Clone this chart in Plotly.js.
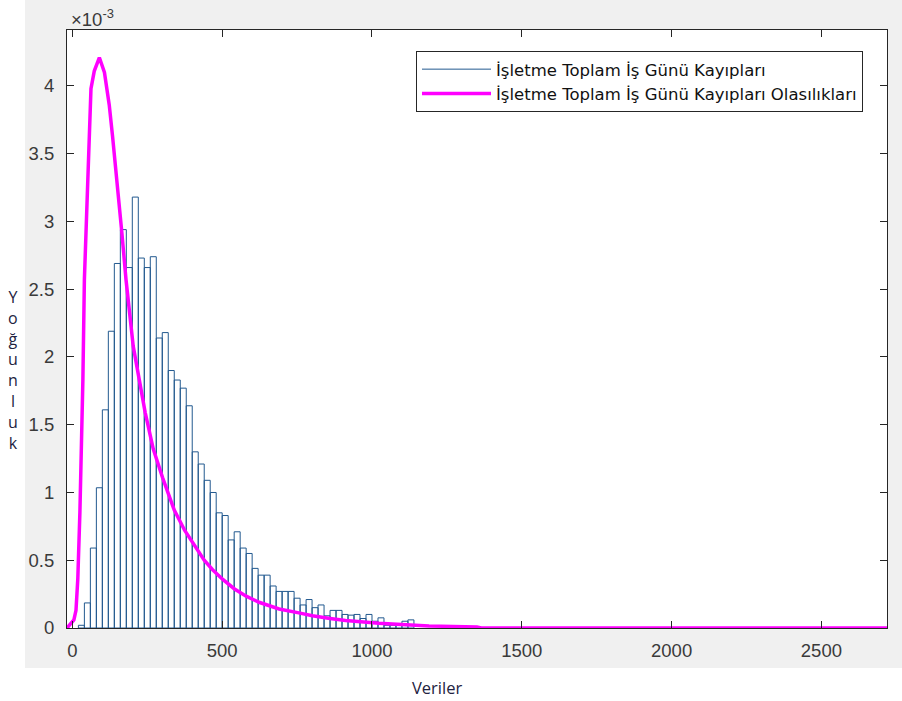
<!DOCTYPE html>
<html>
<head>
<meta charset="utf-8">
<script src="https://cdn.plot.ly/plotly-3.0.1.min.js"></script>
<style>
  html, body { margin: 0; padding: 0; background: #ffffff; }
  #chart { width: 902px; height: 701px; }
</style>
</head>
<body>
<div id="chart"></div>
<script>
// Histogram bins (centers of 20-unit wide bins) and density values
const binCenters = [30, 50, 70, 90, 110, 130, 150, 170, 190, 210, 230, 250, 270, 290, 310, 330, 350, 370, 390, 410,
  430, 450, 470, 490, 510, 530, 550, 570, 590, 610, 630, 650, 670, 690, 710, 730, 750, 770, 790, 810,
  830, 850, 870, 890, 910, 930, 950, 970, 990, 1010, 1030, 1050, 1070, 1090, 1110, 1130];
const binWidth = 20;
const density = [0.02e-3, 0.185e-3, 0.59e-3, 1.035e-3, 1.61e-3, 2.19e-3, 2.69e-3, 2.94e-3, 2.66e-3, 3.18e-3,
  2.73e-3, 2.66e-3, 2.74e-3, 2.14e-3, 2.18e-3, 1.90e-3, 1.83e-3, 1.77e-3, 1.64e-3, 1.30e-3,
  1.21e-3, 1.09e-3, 1.00e-3, 0.85e-3, 0.83e-3, 0.65e-3, 0.71e-3, 0.59e-3, 0.55e-3, 0.44e-3,
  0.39e-3, 0.39e-3, 0.31e-3, 0.27e-3, 0.27e-3, 0.27e-3, 0.22e-3, 0.17e-3, 0.21e-3, 0.15e-3,
  0.17e-3, 0.09e-3, 0.13e-3, 0.13e-3, 0.10e-3, 0.095e-3, 0.10e-3, 0.07e-3, 0.10e-3, 0.05e-3,
  0.075e-3, 0.02e-3, 0.02e-3, 0.02e-3, 0.05e-3, 0.06e-3];

// Fitted probability density curve
const pdfX = [-18, 5, 12, 18, 25, 31, 35, 40, 46, 51, 55, 62, 73, 90, 107, 123, 134, 150, 165, 179,
  203, 243, 270, 301, 340, 375, 410, 440, 468, 501, 540, 580, 623, 690, 760, 801, 860, 912, 1023, 1100,
  1190, 1350, 1365, 2719];
const pdfY = [0, 0.06e-3, 0.13e-3, 0.36e-3, 0.85e-3, 1.34e-3, 1.83e-3, 2.57e-3, 2.95e-3, 3.28e-3,
  3.68e-3, 3.98e-3, 4.11e-3, 4.21e-3, 4.10e-3, 3.86e-3, 3.63e-3, 3.28e-3, 2.92e-3, 2.57e-3,
  2.08e-3, 1.59e-3, 1.32e-3, 1.11e-3, 0.87e-3, 0.72e-3, 0.60e-3, 0.50e-3, 0.43e-3, 0.36e-3,
  0.29e-3, 0.235e-3, 0.19e-3, 0.14e-3, 0.11e-3, 0.09e-3, 0.07e-3, 0.055e-3, 0.035e-3, 0.025e-3,
  0.015e-3, 0.008e-3, 0, 0];

// Tick labels
const xTickVals = [0, 500, 1000, 1500, 2000, 2500];
const xTickLabels = ['0', '500', '1000', '1500', '2000', '2500'];
const yTickVals = [0, 0.5e-3, 1e-3, 1.5e-3, 2e-3, 2.5e-3, 3e-3, 3.5e-3, 4e-3];
const yTickLabels = ['0', '0.5', '1', '1.5', '2', '2.5', '3', '3.5', '4'];

const seriesNames = ['İşletme Toplam İş Günü Kayıpları', 'İşletme Toplam İş Günü Kayıpları Olasılıkları'];
const xLabel = 'Veriler';
const yLabel = 'Yoğunluk';

const histColor = '#22598f';
const pdfColor = '#ff00ff';
const axisColor = '#262626';
const tickFont = { family: 'Liberation Sans, Arial, sans-serif', size: 18.5, color: '#3a3a3a' };

const traces = [
  {
    type: 'bar',
    x: binCenters,
    y: density,
    width: binWidth,
    marker: { color: 'rgba(255,255,255,0)', line: { color: histColor, width: 1 } },
    showlegend: false,
    hoverinfo: 'skip'
  },
  {
    type: 'scatter',
    mode: 'lines',
    x: [null],
    y: [null],
    name: seriesNames[0],
    line: { color: histColor, width: 1 }
  },
  {
    type: 'scatter',
    mode: 'lines',
    x: pdfX,
    y: pdfY,
    name: seriesNames[1],
    line: { color: pdfColor, width: 3.5 }
  }
];

const axisCommon = {
  showline: true,
  linecolor: axisColor,
  linewidth: 1,
  mirror: 'ticks',
  ticks: 'inside',
  ticklen: 7,
  tickcolor: axisColor,
  tickwidth: 1,
  showgrid: false,
  zeroline: false,
  tickfont: tickFont
};

const layout = {
  width: 902,
  height: 701,
  margin: { l: 67, r: 15, t: 30, b: 73, pad: 0 },
  paper_bgcolor: '#f0f0f0',
  plot_bgcolor: '#ffffff',
  bargap: 0,
  xaxis: Object.assign({}, axisCommon, {
    range: [-18, 2719],
    tickvals: xTickVals,
    ticktext: xTickLabels,
    ticklabelstandoff: 6
  }),
  yaxis: Object.assign({}, axisCommon, {
    range: [0, 4.413e-3],
    tickvals: yTickVals,
    ticktext: yTickLabels,
    ticklabelstandoff: 8
  }),
  legend: {
    x: 0.4256, y: 0.965, xanchor: 'left', yanchor: 'top',
    bgcolor: '#ffffff',
    bordercolor: axisColor,
    borderwidth: 1,
    font: { family: 'DejaVu Sans, sans-serif', size: 16.5, color: '#111111' },
    itemwidth: 69,
    tracegroupgap: 0
  },
  shapes: [
    { type: 'rect', xref: 'paper', yref: 'paper', x0: -0.09, x1: -0.0512, y0: -0.13, y1: 1.06,
      fillcolor: '#ffffff', line: { width: 0 }, layer: 'below' },
    { type: 'rect', xref: 'paper', yref: 'paper', x0: -0.09, x1: 1.03, y0: -0.13, y1: -0.0669,
      fillcolor: '#ffffff', line: { width: 0 }, layer: 'below' }
  ],
  annotations: [
    { xref: 'paper', yref: 'paper', x: 0.002, y: 1.02, xanchor: 'left', yanchor: 'middle',
      text: '×10<sup>-3</sup>', showarrow: false, font: tickFont },
    { xref: 'paper', yref: 'paper', x: 0.451, y: -0.0987, xanchor: 'center', yanchor: 'middle',
      text: xLabel, showarrow: false,
      font: { family: 'Open Sans, sans-serif', size: 16.5, color: '#222240' } },
    { xref: 'paper', yref: 'paper', x: -0.0658, y: 0.431, xanchor: 'center', yanchor: 'middle',
      text: yLabel.split('').join('<br>'), showarrow: false,
      font: { family: 'Open Sans, sans-serif', size: 16, color: '#222240' } }
  ]
};

Plotly.newPlot('chart', traces, layout, { displayModeBar: false, staticPlot: true });
</script>
</body>
</html>
